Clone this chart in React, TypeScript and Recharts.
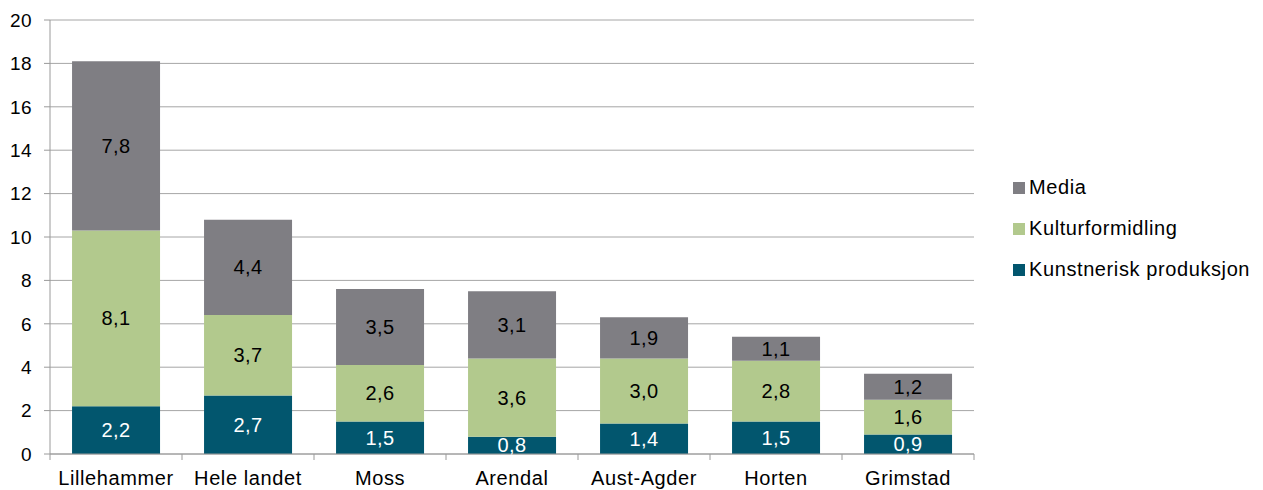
import { BarChart, Bar, XAxis, YAxis, CartesianGrid, LabelList } from "recharts"

const places = ["Lillehammer", "Hele landet", "Moss", "Arendal", "Aust-Agder", "Horten", "Grimstad"]
const kunstnerisk = [2.2, 2.7, 1.5, 0.8, 1.4, 1.5, 0.9]
const kultur = [8.1, 3.7, 2.6, 3.6, 3.0, 2.8, 1.6]
const media = [7.8, 4.4, 3.5, 3.1, 1.9, 1.1, 1.2]
const yTicks = [0, 2, 4, 6, 8, 10, 12, 14, 16, 18, 20]

const series = [
  { key: "media", name: "Media", color: "#7f7e83", text: "#000" },
  { key: "kultur", name: "Kulturformidling", color: "#b2c98d", text: "#000" },
  { key: "kunst", name: "Kunstnerisk produksjon", color: "#02566e", text: "#fff" },
]

const rows = places.map((p, i) => ({ place: p, kunst: kunstnerisk[i], kultur: kultur[i], media: media[i] }))

const font = "'Liberation Sans', Arial, sans-serif"
const fmt = (v: any) => Number(v).toFixed(1).replace(".", ",")

const W = 1263
const H = 490
const M = { top: 20, right: 289, left: 0, bottom: 6 }
const yAxisW = 50
const band = (W - M.right - M.left - yAxisW) / places.length

function XTick(props: any) {
  const { x, y, payload, index } = props
  return (
    <g>
      <line x1={x - band / 2} x2={x - band / 2} y1={y} y2={y + 6} stroke="#9a9a9a" />
      {index === places.length - 1 && (
        <line x1={x + band / 2} x2={x + band / 2} y1={y} y2={y + 6} stroke="#9a9a9a" />
      )}
      <text x={x} y={y + 31} textAnchor="middle" fontSize={20} letterSpacing={0.6} fill="#000" fontFamily={font}>
        {payload.value}
      </text>
    </g>
  )
}

function LegendBox() {
  return (
    <div style={{ position: "absolute", left: 1013, top: 167, fontFamily: font, fontSize: 20, letterSpacing: 0.6, color: "#000" }}>
      {series.map((s) => (
        <div key={s.key} style={{ display: "flex", alignItems: "center", height: 41, whiteSpace: "nowrap" }}>
          <span style={{ width: 12, height: 12, background: s.color, marginRight: 4, display: "inline-block" }} />
          {s.name}
        </div>
      ))}
    </div>
  )
}

export default function App() {
  return (
    <div style={{ position: "absolute", left: 0, top: 0, width: W, height: H, background: "#fff" }}>
      <BarChart width={W} height={H} data={rows} margin={M} barCategoryGap="16.7%">
        <CartesianGrid vertical={false} stroke="#a6a6a6" />
        <XAxis
          dataKey="place"
          tick={<XTick />}
          tickLine={false}
          tickSize={0}
          tickMargin={0}
          axisLine={{ stroke: "#9a9a9a" }}
          height={30}
          interval={0}
        />
        <YAxis
          domain={[0, 20]}
          ticks={yTicks}
          width={yAxisW}
          tickSize={6}
          tickMargin={12}
          axisLine={{ stroke: "#9a9a9a" }}
          tickLine={{ stroke: "#9a9a9a" }}
          tick={{ fontSize: 19, fill: "#000", fontFamily: font, letterSpacing: 0.4 }}
        />
        {[...series].reverse().map((s) => (
          <Bar key={s.key} dataKey={s.key} name={s.name} stackId="a" fill={s.color} isAnimationActive={false}>
            <LabelList dataKey={s.key} position="center" formatter={fmt} fill={s.text} fontSize={20} letterSpacing={0.4} fontFamily={font} />
          </Bar>
        ))}
      </BarChart>
      <LegendBox />
    </div>
  )
}
